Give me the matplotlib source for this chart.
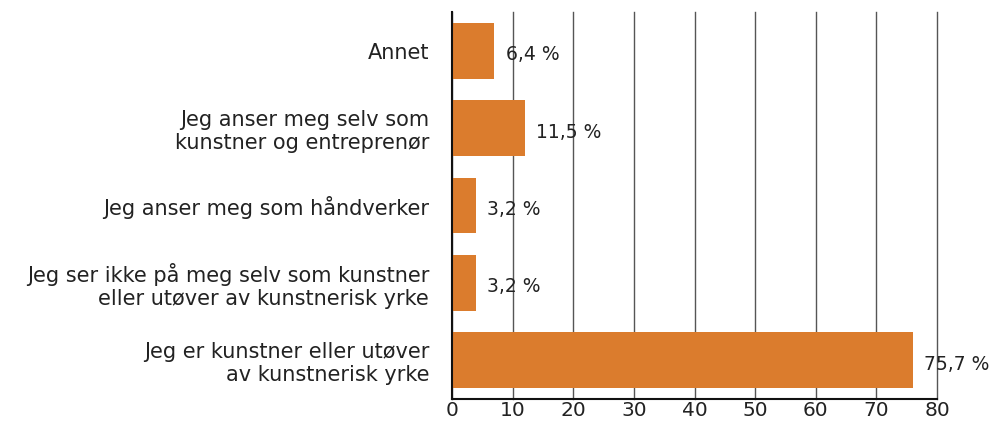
import matplotlib
matplotlib.use("Agg")
import matplotlib.pyplot as plt

categories = [
    "Jeg er kunstner eller utøver\nav kunstnerisk yrke",
    "Jeg ser ikke på meg selv som kunstner\neller utøver av kunstnerisk yrke",
    "Jeg anser meg som håndverker",
    "Jeg anser meg selv som\nkunstner og entreprenør",
    "Annet",
]
bar_lengths = [76, 4, 4, 12, 7]
value_labels = ["75,7 %", "3,2 %", "3,2 %", "11,5 %", "6,4 %"]
xticks = [0, 10, 20, 30, 40, 50, 60, 70, 80]

FAM = ["DejaVu Sans"]
plt.rcParams['font.family'] = FAM
fig = plt.figure(figsize=(9.98, 4.23), dpi=100)
ax = fig.add_axes([452/998, 1-398.7/423, (937-452)/998, (398.7-12)/423])

y = list(range(len(categories)))
ax.barh(y, bar_lengths, height=0.72, color="#DB7C2D", zorder=3)
for yi, v, lab in zip(y, bar_lengths, value_labels):
    ax.annotate(lab, (v, yi), xytext=(8, -3), textcoords="offset points",
                va="center", ha="left", fontsize=13.5, color="#222222",
                family=FAM, zorder=4)

ax.set_xlim(0, 80)
ax.set_ylim(-0.5, len(categories) - 0.5)
ax.set_xticks(xticks)
ax.set_xticklabels([str(t) for t in xticks], fontsize=14.5, color="#222222", family=FAM)
ax.set_yticks(y)
ax.set_yticklabels(categories, fontsize=15, color="#222222", linespacing=1.2, family=FAM)
ax.tick_params(axis="both", length=0, pad=1.5)
ax.tick_params(axis="y", pad=16.5)
ax.xaxis.grid(True, color="#555555", linewidth=1.0, zorder=0)
for gl in ax.get_xgridlines():
    gl.set_clip_on(False)
ax.set_axisbelow(True)
for s in ["top", "right"]:
    ax.spines[s].set_visible(False)
ax.spines["left"].set_color("#111111")
ax.spines["bottom"].set_color("#111111")
ax.spines["left"].set_linewidth(1.5)
ax.spines["bottom"].set_linewidth(1.5)
ax.spines["left"].set_zorder(5)

fig.savefig("out.png", dpi=100)
